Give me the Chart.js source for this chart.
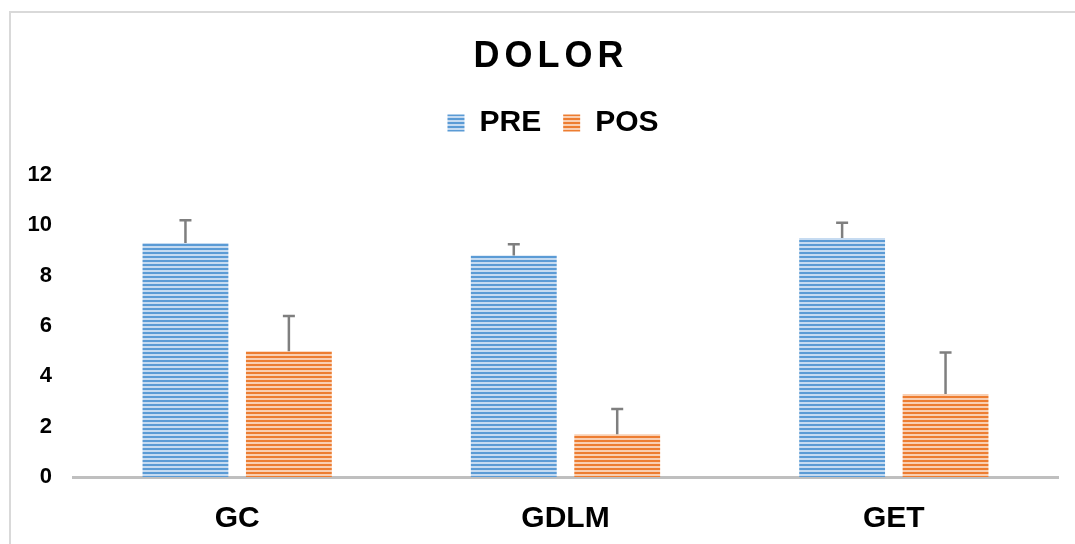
<!DOCTYPE html>
<html>
<head>
<meta charset="utf-8">
<script src="https://cdn.jsdelivr.net/npm/chart.js@4"></script>
<style>
  body { margin: 0; background: #fff; }
  #wrap { position: relative; width: 1075px; height: 544px; }
  #frame { position: absolute; left: 9px; top: 11px; right: -5px; bottom: -5px;
           border-left: 2px solid #d9d9d9; border-top: 2px solid #d9d9d9; }
</style>
</head>
<body>
<div id="wrap">
  <div id="frame"></div>
  <canvas id="chart"></canvas>
</div>
<script>
// datos
const grupos = ['GC', 'GDLM', 'GET'];
const pre = [9.3, 8.8, 9.5];
const pos = [5.0, 1.7, 3.3];
const errPre = [0.9, 0.45, 0.6];
const errPos = [1.4, 1.0, 1.65];
const ticksY = [0, 2, 4, 6, 8, 10, 12];

const FONT = '"Liberation Sans", Arial, sans-serif';

// patron de rayas horizontales
function rayas(oscuro, claro) {
  const c = document.createElement('canvas');
  c.width = 8; c.height = 4;
  const g = c.getContext('2d');
  g.fillStyle = claro;
  g.fillRect(0, 0, 8, 4);
  g.fillStyle = oscuro;
  g.fillRect(0, 0, 8, 2);
  return g.createPattern(c, 'repeat');
}
const azul = rayas('#5b9bd5', '#c6dbf1');
const naranja = rayas('#ed7d31', '#f9cfb2');

const tituloPlugin = {
  id: 'tituloEspaciado',
  afterDraw(chart) {
    const ctx = chart.ctx;
    ctx.save();
    ctx.font = 'bold 36px ' + FONT;
    ctx.letterSpacing = '5px';
    ctx.fillStyle = '#000';
    ctx.textAlign = 'center';
    ctx.textBaseline = 'middle';
    ctx.fillText('DOLOR', 551, 57);
    ctx.restore();
  }
};

// mas espacio bajo la leyenda y leyenda algo a la derecha
const ajustarLeyenda = {
  id: 'ajustarLeyenda',
  beforeInit(chart) {
    const leg = chart.legend;
    const fit = leg.fit;
    const draw = leg.draw;
    leg.fit = function () {
      fit.call(this);
      this.height += 29;
    };
    leg.draw = function () {
      this.ctx.save();
      this.ctx.translate(24, 2);
      draw.call(this);
      this.ctx.restore();
    };
  }
};

const errores = {
  id: 'errores',
  afterDatasetsDraw(chart) {
    const ctx = chart.ctx;
    const y = chart.scales.y;
    const errs = [errPre, errPos];
    ctx.save();
    ctx.strokeStyle = '#7f7f7f';
    ctx.lineWidth = 2.5;
    chart.data.datasets.forEach((ds, i) => {
      chart.getDatasetMeta(i).data.forEach((bar, j) => {
        const top = y.getPixelForValue(ds.data[j] + errs[i][j]);
        ctx.beginPath();
        ctx.moveTo(bar.x, bar.y);
        ctx.lineTo(bar.x, top);
        ctx.moveTo(bar.x - 6, top);
        ctx.lineTo(bar.x + 6, top);
        ctx.stroke();
      });
    });
    ctx.restore();
  }
};

new Chart(document.getElementById('chart'), {
  type: 'bar',
  data: {
    labels: grupos,
    datasets: [
      { label: 'PRE', data: pre, backgroundColor: azul, borderWidth: 0 },
      { label: 'POS', data: pos, backgroundColor: naranja, borderWidth: 0 }
    ]
  },
  options: {
    responsive: true,
    maintainAspectRatio: false,
    animation: false,
    categoryPercentage: 0.63,
    barPercentage: 0.83,
    layout: { padding: { top: 84, left: 0, right: 17, bottom: 0 } },
    plugins: {
      title: { display: false },
      tooltip: { enabled: false },
      legend: {
        position: 'top',
        labels: {
          color: '#000',
          font: { family: FONT, size: 30, weight: 'bold' },
          boxWidth: 17,
          boxHeight: 17,
          padding: 22
        }
      }
    },
    scales: {
      x: {
        afterFit: s => { s.height = 67; },
        grid: { display: false, drawTicks: false },
        border: { display: true, color: '#bfbfbf', width: 3 },
        ticks: {
          color: '#000',
          padding: 24,
          font: { family: FONT, size: 30, weight: 'bold' }
        }
      },
      y: {
        min: 0,
        max: 12,
        afterBuildTicks: s => { s.ticks = ticksY.map(v => ({ value: v })); },
        afterFit: s => { s.width = 73; },
        grid: { display: false, drawTicks: false },
        border: { display: false },
        ticks: {
          color: '#000',
          padding: 21,
          font: { family: FONT, size: 22, weight: 'bold' }
        }
      }
    }
  },
  plugins: [tituloPlugin, ajustarLeyenda, errores]
});
</script>
</body>
</html>
